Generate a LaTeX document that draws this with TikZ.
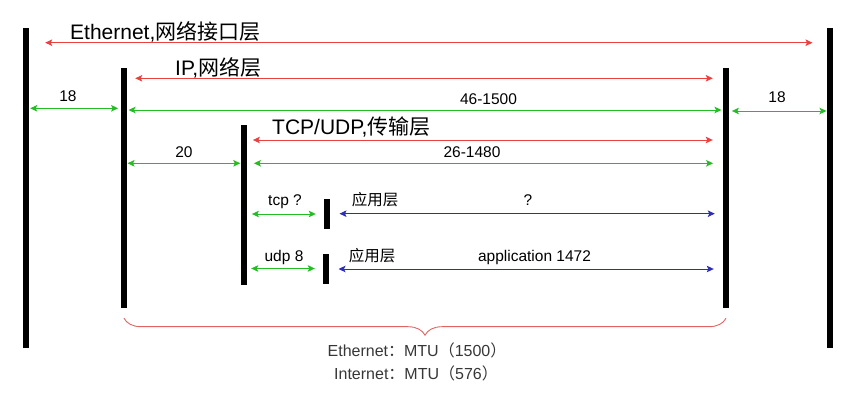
\documentclass[tikz,border=0pt]{standalone}
\usepackage{fontspec}
\setmainfont{Liberation Sans}
\newfontfamily\cjk{Noto Sans CJK SC}
\usepackage{tikz}
\usetikzlibrary{arrows.meta,decorations.pathreplacing}
\definecolor{arrred}{RGB}{235,64,64}
\definecolor{arrgreen}{RGB}{35,190,35}
\definecolor{arrblue}{RGB}{45,45,185}
\definecolor{bracered}{RGB}{225,100,100}
\definecolor{txtgrey}{RGB}{55,55,55}
\tikzset{
  >={Stealth[length=7pt,width=6.5pt,inset=1.5pt]},
  redarr/.style={<->, line width=0.9pt, draw=arrred},
  greenarr/.style={redarr, draw=arrgreen},
  bluearr/.style={redarr, draw=arrblue},
  bar/.style={fill=black, inner sep=0pt, minimum width=6pt},
  bigtxt/.style={inner sep=0pt, anchor=base west, font=\fontsize{21}{25}\selectfont},
  smalltxt/.style={inner sep=0pt, anchor=base, font=\fontsize{15.5}{18}\selectfont},
  mtutxt/.style={inner sep=0pt, text=txtgrey, font=\fontsize{16}{19}\selectfont}
}
\begin{document}
\begin{tikzpicture}[x=1pt,y=-1pt]
\useasboundingbox (0,0) rectangle (857,403);
% layer bars
\node[bar,minimum height=320pt] (ethL) at (26.3,188) {};
\node[bar,minimum height=320pt] (ethR) at (830.3,188) {};
\node[bar,minimum height=240pt] (ipL) at (124,188) {};
\node[bar,minimum height=240pt] (ipR) at (726,188) {};
\node[bar,minimum height=160pt] (tpL) at (244,205) {};
\node[bar,minimum height=30pt] (tcpB) at (327,214.3) {};
\node[bar,minimum height=30pt] (udpB) at (326.3,269) {};
% layer spans
\draw[redarr,shorten <=15.7pt,shorten >=14.6pt] (ethL.east |- 0,42.7) -- (ethR.west |- 0,42.7);
\draw[redarr,shorten <=8pt,shorten >=10pt] (ipL.east |- 0,78.3) -- (ipR.west |- 0,78.3);
\draw[redarr,shorten <=5.7pt,shorten >=10pt] (tpL.east |- 0,140) -- (ipR.west |- 0,140);
\node[bigtxt] (ethName) at (70,40) {Ethernet,{\cjk 网络接口层}};
\node[bigtxt] (ipName) at (175,76) {IP,{\cjk 网络层}};
\node[bigtxt] (tpName) at (272,135) {TCP/UDP,{\cjk 传输层}};
% sizes
\draw[greenarr,shorten <=0.7pt,shorten >=2.7pt] (ethL.east |- 0,108.3) -- (ipL.west |- 0,108.3);
\draw[greenarr,shorten <=1.3pt,shorten >=1.3pt] (ipL.east |- 0,110) -- (ipR.west |- 0,110);
\draw[greenarr,shorten <=2.7pt,shorten >=0.6pt] (ipR.east |- 0,111) -- (ethR.west |- 0,111);
\draw[greenarr,shorten <=0.3pt,shorten >=0.5pt] (ipL.east |- 0,163.3) -- (tpL.west |- 0,163.3);
\draw[greenarr,shorten <=6.7pt,shorten >=9.7pt] (tpL.east |- 0,163.3) -- (ipR.west |- 0,163.3);
\draw[greenarr,shorten <=4.7pt,shorten >=8pt] (tpL.east |- 0,214) -- (tcpB.west |- 0,214);
\draw[greenarr,shorten <=4pt,shorten >=8.3pt] (tpL.east |- 0,268.5) -- (udpB.west |- 0,268.5);
\draw[bluearr,shorten <=9.3pt,shorten >=8pt] (tcpB.east |- 0,213.7) -- (ipR.west |- 0,213.7);
\draw[bluearr,shorten <=9pt,shorten >=9pt] (udpB.east |- 0,269) -- (ipR.west |- 0,269);
\node[smalltxt] (ethHdrL) at (68,102) {18};
\node[smalltxt] (ipData) at (488.5,105) {46-1500};
\node[smalltxt] (ethHdrR) at (777,103) {18};
\node[smalltxt] (ipHdr) at (184,158) {20};
\node[smalltxt] (tpData) at (472,158) {26-1480};
\node[smalltxt] (tcpHdr) at (285,206) {tcp ?};
\node[smalltxt] (tcpApp) at (375,206) {\cjk 应用层};
\node[smalltxt] (tcpData) at (528,206) {?};
\node[smalltxt] (udpHdr) at (284,262) {udp 8};
\node[smalltxt] (udpApp) at (372,262) {\cjk 应用层};
\node[smalltxt] (udpData) at (534.5,262) {application 1472};
% MTU
\draw[bracered,line width=0.9pt,decorate,decoration={brace,mirror,amplitude=17pt}] ([yshift=-10pt]ipL.south) -- ([yshift=-10pt]ipR.south);
\node[mtutxt] (mtuEth) at (417,350) {Ethernet{\cjk ：}MTU{\cjk （}1500{\cjk ）}};
\node[mtutxt] (mtuNet) at (416,373) {Internet{\cjk ：}MTU{\cjk （}576{\cjk ）}};
\end{tikzpicture}
\end{document}
